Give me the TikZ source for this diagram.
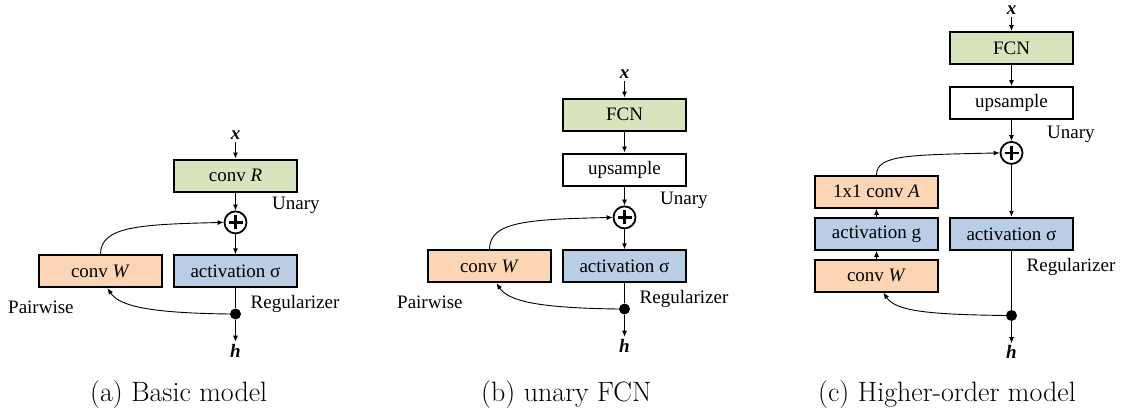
\documentclass[tikz,border=0pt]{standalone}
\usepackage{fontspec}
\usepackage{xcolor}
\usepackage{tikz}
\usetikzlibrary{positioning, arrows.meta}
\newfontfamily\boxfont{Liberation Serif}
\definecolor{unarygreen}{RGB}{215,228,189}
\definecolor{pairpeach}{RGB}{252,213,181}
\definecolor{actblue}{RGB}{185,205,229}

\begin{document}
\begin{tikzpicture}[x=1pt, y=1pt, every node/.style={font=\boxfont\fontsize{19}{22}\selectfont},
      box/.style={draw, line width=2pt, minimum width=123pt, minimum height=32pt, inner sep=0pt},
      greenbox/.style={box, fill=unarygreen},
      whitebox/.style={box, fill=white},
      peachbox/.style={box, fill=pairpeach},
      bluebox/.style={box, fill=actblue},
      sumnode/.style={circle, draw, line width=1.8pt, minimum size=22pt, inner sep=0pt,
                      path picture={\draw[line width=2.6pt] (path picture bounding box.center) +(-7pt,0) -- +(7pt,0)
                                    (path picture bounding box.center) +(0,-7pt) -- +(0,7pt);}},
      dotnode/.style={circle, fill, minimum size=11pt, inner sep=0pt},
      varlbl/.style={inner sep=2pt},
      lbl/.style={inner sep=0pt, anchor=west},
      caplbl/.style={inner sep=0pt, anchor=base west, font=\fontsize{28}{32}\selectfont},
      arr/.style={-{Latex[length=6pt, width=5pt]}, line width=0.9pt},
      wire/.style={line width=0.9pt}]
    \useasboundingbox (0,0) rectangle (1131,416);

    % (a) basic model
    \node[greenbox] (convRa) at (235.5,240.5) {conv \textit{R}};
    \node[varlbl, above=17pt of convRa] (xa) {\textbf{\textit{x}}};
    \node[sumnode, below=18pt of convRa] (plusa) {};
    \node[bluebox, below=20pt of plusa] (actSa) {activation σ};
    \node[peachbox, left=10pt of actSa] (convWa) {conv \textit{W}};
    \node[dotnode, below=20pt of actSa] (dota) {};
    \node[varlbl, below=22pt of dota] (ha) {\textbf{\textit{h}}};
    \node[lbl] (unarya) at ([xshift=-26pt,yshift=-13pt]convRa.south east) {Unary};
    \node[lbl] (rega) at ([xshift=15pt,yshift=-16pt]actSa.south) {Regularizer};
    \node[lbl] (pairA) at ([xshift=-30pt,yshift=-19pt]convWa.south west) {Pairwise};
    \draw[arr] (xa) -- (convRa);
    \draw[arr] (convRa) -- (plusa);
    \draw[arr] (plusa) -- (actSa);
    \draw[wire] (actSa) -- (dota);
    \draw[arr] (dota) -- (ha);
    \draw[arr] (convWa.north) .. controls +(0,28) and +(-84,-2) .. (plusa.west);
    \draw[arr] (dota.west) .. controls +(-80,1) and +(12,-18) .. ([xshift=7pt]convWa.south);

    % (b) unary FCN
    \node[greenbox] (fcnb) at (624.5,301.5) {FCN};
    \node[varlbl, above=17pt of fcnb] (xb) {\textbf{\textit{x}}};
    \node[whitebox, below=21pt of fcnb] (upb) {upsample};
    \node[sumnode, below=19pt of upb] (plusb) {};
    \node[bluebox, below=20pt of plusb] (actSb) {activation σ};
    \node[peachbox, left=10pt of actSb] (convWb) {conv \textit{W}};
    \node[dotnode, below=20pt of actSb] (dotb) {};
    \node[varlbl, below=22pt of dotb] (hb) {\textbf{\textit{h}}};
    \node[lbl] (unaryb) at ([xshift=-27pt,yshift=-14pt]upb.south east) {Unary};
    \node[lbl] (regb) at ([xshift=15pt,yshift=-16pt]actSb.south) {Regularizer};
    \node[lbl] (pairB) at ([xshift=-30pt,yshift=-19pt]convWb.south west) {Pairwise};
    \draw[arr] (xb) -- (fcnb);
    \draw[arr] (fcnb) -- (upb);
    \draw[arr] (upb) -- (plusb);
    \draw[arr] (plusb) -- (actSb);
    \draw[wire] (actSb) -- (dotb);
    \draw[arr] (dotb) -- (hb);
    \draw[arr] (convWb.north) .. controls +(0,28) and +(-84,-2) .. (plusb.west);
    \draw[arr] (dotb.west) .. controls +(-80,1) and +(12,-18) .. ([xshift=7pt]convWb.south);

    % (c) higher-order model
    \node[greenbox] (fcnc) at (1011.5,368) {FCN};
    \node[varlbl, above=14pt of fcnc] (xc) {\textbf{\textit{x}}};
    \node[whitebox, below=21pt of fcnc] (upc) {upsample};
    \node[sumnode, below=21pt of upc] (plusc) {};
    \node[bluebox, below=52pt of plusc] (actSc) {activation σ};
    \node[bluebox, left=10pt of actSc] (actGc) {activation g};
    \node[peachbox, above=8pt of actGc] (convAc) {1x1 conv \textit{A}};
    \node[peachbox, below=8pt of actGc] (convWc) {conv \textit{W}};
    \node[dotnode, below=59pt of actSc] (dotc) {};
    \node[varlbl, below=22pt of dotc] (hc) {\textbf{\textit{h}}};
    \node[lbl] (unaryc) at ([xshift=-27pt,yshift=-14pt]upc.south east) {Unary};
    \node[lbl] (regc) at ([xshift=15pt,yshift=-16pt]actSc.south) {Regularizer};
    \draw[arr] (xc) -- (fcnc);
    \draw[arr] (fcnc) -- (upc);
    \draw[arr] (upc) -- (plusc);
    \draw[arr] (plusc) -- (actSc);
    \draw[wire] (actSc) -- (dotc);
    \draw[arr] (dotc) -- (hc);
    \draw[arr] (convWc) -- (actGc);
    \draw[arr] (actGc) -- (convAc);
    \draw[arr] (convAc.north) .. controls +(0,20) and +(-90,-2) .. (plusc.west);
    \draw[arr] (dotc.west) .. controls +(-80,1) and +(12,-18) .. ([xshift=7pt]convWc.south);

    % captions
    \node[caplbl] (capa) at (90,15) {(a) Basic model};
    \node[caplbl] (capb) at (481,15) {(b) unary FCN};
    \node[caplbl] (capc) at (818,15) {(c) Higher-order model};
  \end{tikzpicture}
\end{document}
